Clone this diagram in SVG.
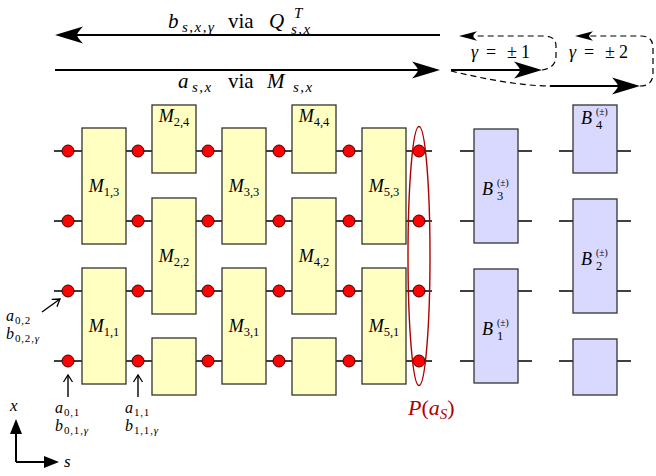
<svg xmlns="http://www.w3.org/2000/svg" width="656" height="476" viewBox="0 0 656 476" font-family="Liberation Serif, DejaVu Serif, serif">
<style>
.wire{stroke:#000;stroke-width:1.6;fill:none}
.m{fill:#ffffc2;stroke:#333;stroke-width:1.3}
.b{fill:#d9d9ff;stroke:#333;stroke-width:1.3}
.dot{fill:#ff0000;stroke:#400;stroke-width:1}
text{font-family:Liberation Serif, DejaVu Serif, serif;fill:#000}
.i{font-style:italic}
.thick{stroke:#000;stroke-width:2;fill:none}
.dash{stroke:#000;stroke-width:1.2;fill:none;stroke-dasharray:6 4}
.thin{stroke:#000;stroke-width:1.4;fill:none}
.ax{stroke:#000;stroke-width:2;fill:none}
.red{stroke:#b00000;stroke-width:1.4;fill:none}
</style>
<defs>
<marker id="big" viewBox="0 -10 30 20" refX="6" refY="0" markerWidth="30" markerHeight="20" markerUnits="userSpaceOnUse" orient="auto">
<path d="M28,0 L0,-8.5 Q6,-2 6,0 Q6,2 0,8.5 Z" fill="#000"/>
</marker>
<marker id="small" viewBox="0 -6 20 12" refX="4" refY="0" markerWidth="20" markerHeight="12" markerUnits="userSpaceOnUse" orient="auto">
<path d="M18,0 L0,-4.8 Q4,-1 4,0 Q4,1 0,4.8 Z" fill="#000"/>
</marker>
<marker id="axh" viewBox="0 -7 16 14" refX="2" refY="0" markerWidth="16" markerHeight="14" markerUnits="userSpaceOnUse" orient="auto">
<path d="M15,0 L0,-6 L0,6 Z" fill="#000"/>
</marker>
<marker id="open" viewBox="-9 -6 11 12" refX="0" refY="0" markerWidth="11" markerHeight="12" markerUnits="userSpaceOnUse" orient="auto">
<path d="M-7,-4.5 L0,0 L-7,4.5" fill="none" stroke="#000" stroke-width="1.3"/>
</marker>
</defs>

<g id="wires">
<path class="wire" d="M54,151H432M54,221H432M54,291H432M54,361H432"/>
<path class="wire" d="M460,151H532M460,221H532M460,291H532M460,361H532"/>
<path class="wire" d="M559,151H631M559,221H631M559,291H631M559,361H631"/>
</g>

<g id="M13"><rect class="m" x="82" y="128" width="44" height="116"/><text x="104" y="192" font-size="18" text-anchor="middle"><tspan class="i">M</tspan><tspan font-size="12.5" dy="3.5">1,3</tspan></text></g>
<g id="M11"><rect class="m" x="82" y="268" width="44" height="116"/><text x="104" y="332" font-size="18" text-anchor="middle"><tspan class="i">M</tspan><tspan font-size="12.5" dy="3.5">1,1</tspan></text></g>
<g id="M24"><rect class="m" x="152" y="105" width="44" height="68"/><text x="174" y="122" font-size="18" text-anchor="middle"><tspan class="i">M</tspan><tspan font-size="12.5" dy="3.5">2,4</tspan></text></g>
<g id="M22"><rect class="m" x="152" y="198" width="44" height="116"/><text x="174" y="262" font-size="18" text-anchor="middle"><tspan class="i">M</tspan><tspan font-size="12.5" dy="3.5">2,2</tspan></text></g>
<g id="M20"><rect class="m" x="152" y="338" width="44" height="57"/></g>
<g id="M33"><rect class="m" x="222" y="128" width="44" height="116"/><text x="244" y="192" font-size="18" text-anchor="middle"><tspan class="i">M</tspan><tspan font-size="12.5" dy="3.5">3,3</tspan></text></g>
<g id="M31"><rect class="m" x="222" y="268" width="44" height="116"/><text x="244" y="332" font-size="18" text-anchor="middle"><tspan class="i">M</tspan><tspan font-size="12.5" dy="3.5">3,1</tspan></text></g>
<g id="M44"><rect class="m" x="292" y="105" width="44" height="68"/><text x="314" y="122" font-size="18" text-anchor="middle"><tspan class="i">M</tspan><tspan font-size="12.5" dy="3.5">4,4</tspan></text></g>
<g id="M42"><rect class="m" x="292" y="198" width="44" height="116"/><text x="314" y="262" font-size="18" text-anchor="middle"><tspan class="i">M</tspan><tspan font-size="12.5" dy="3.5">4,2</tspan></text></g>
<g id="M40"><rect class="m" x="292" y="338" width="44" height="57"/></g>
<g id="M53"><rect class="m" x="362" y="128" width="44" height="116"/><text x="384" y="192" font-size="18" text-anchor="middle"><tspan class="i">M</tspan><tspan font-size="12.5" dy="3.5">5,3</tspan></text></g>
<g id="M51"><rect class="m" x="362" y="268" width="44" height="116"/><text x="384" y="332" font-size="18" text-anchor="middle"><tspan class="i">M</tspan><tspan font-size="12.5" dy="3.5">5,1</tspan></text></g>

<g id="B3"><rect class="b" x="474" y="129" width="44" height="114"/><text class="i" x="482" y="195" font-size="18">B</text><text x="497" y="186" font-size="9.5">(±)</text><text x="497" y="200" font-size="12.5">3</text></g>
<g id="B1"><rect class="b" x="474" y="269" width="44" height="114"/><text class="i" x="482" y="335" font-size="18">B</text><text x="497" y="326" font-size="9.5">(±)</text><text x="497" y="340" font-size="12.5">1</text></g>
<g id="B4"><rect class="b" x="573" y="105" width="44" height="68"/><text class="i" x="581" y="124" font-size="18">B</text><text x="596" y="115" font-size="9.5">(±)</text><text x="596" y="129" font-size="12.5">4</text></g>
<g id="B2"><rect class="b" x="573" y="199" width="44" height="114"/><text class="i" x="581" y="265" font-size="18">B</text><text x="596" y="256" font-size="9.5">(±)</text><text x="596" y="270" font-size="12.5">2</text></g>
<g id="B0"><rect class="b" x="573" y="339" width="44" height="56"/></g>

<g id="dots">
<circle class="dot" cx="68" cy="151" r="6"/><circle class="dot" cx="68" cy="221" r="6"/><circle class="dot" cx="68" cy="291" r="6"/><circle class="dot" cx="68" cy="361" r="6"/>
<circle class="dot" cx="138" cy="151" r="6"/><circle class="dot" cx="138" cy="221" r="6"/><circle class="dot" cx="138" cy="291" r="6"/><circle class="dot" cx="138" cy="361" r="6"/>
<circle class="dot" cx="208" cy="151" r="6"/><circle class="dot" cx="208" cy="221" r="6"/><circle class="dot" cx="208" cy="291" r="6"/><circle class="dot" cx="208" cy="361" r="6"/>
<circle class="dot" cx="279" cy="151" r="6"/><circle class="dot" cx="279" cy="221" r="6"/><circle class="dot" cx="279" cy="291" r="6"/><circle class="dot" cx="279" cy="361" r="6"/>
<circle class="dot" cx="349" cy="151" r="6"/><circle class="dot" cx="349" cy="221" r="6"/><circle class="dot" cx="349" cy="291" r="6"/><circle class="dot" cx="349" cy="361" r="6"/>
<circle class="dot" cx="419" cy="151" r="6"/><circle class="dot" cx="419" cy="221" r="6"/><circle class="dot" cx="419" cy="291" r="6"/><circle class="dot" cx="419" cy="361" r="6"/>
</g>

<g id="P">
<ellipse class="red" cx="419" cy="256" rx="11" ry="129.5"/>
<text x="408" y="415" font-size="22" style="fill:#b00000"><tspan class="i">P</tspan>(<tspan class="i">a</tspan><tspan class="i" font-size="15" dy="4">S</tspan><tspan dy="-4">)</tspan></text>
</g>

<g id="connectors">
<path class="thick" d="M440,35H77" marker-end="url(#big)"/>
<path class="thick" d="M55,70H418" marker-end="url(#big)"/>
<path class="thick" d="M451,70H520" marker-end="url(#big)"/>
<path class="dash" d="M542,70Q556,68 556,56V46Q556,36 544,36H473" marker-end="url(#small)"/>
<path class="dash" d="M451,71C480,78 520,86 550,86"/>
<path class="thick" d="M550,86H618" marker-end="url(#big)"/>
<path class="dash" d="M640,86Q653,86 653,73V48Q653,36 641,36H589" marker-end="url(#small)"/>
<path class="thin" d="M68,397V375" marker-end="url(#open)"/>
<path class="thin" d="M138,397V375" marker-end="url(#open)"/>
<path class="thin" d="M42,312L60,299" marker-end="url(#open)"/>
<path class="ax" d="M16,462V432" marker-end="url(#axh)"/>
<path class="ax" d="M16,462H46" marker-end="url(#axh)"/>
</g>

<g id="labels">
<text font-size="21"><tspan class="i" x="168" y="28">b</tspan><tspan class="i" font-size="15" x="182" y="32" letter-spacing="1.5">s,x,γ</tspan><tspan x="228" y="28">via</tspan><tspan class="i" x="269" y="28">Q</tspan><tspan class="i" font-size="15" x="294" y="18">T</tspan><tspan class="i" font-size="15" x="291" y="34" letter-spacing="1.5">s,x</tspan></text>
<text font-size="21"><tspan class="i" x="178" y="88">a</tspan><tspan class="i" font-size="15" x="192" y="92" letter-spacing="1.5">s,x</tspan><tspan x="228" y="88">via</tspan><tspan class="i" x="267" y="88">M</tspan><tspan class="i" font-size="15" x="293" y="92" letter-spacing="1.5">s,x</tspan></text>
<text font-size="18" y="58"><tspan class="i" x="471">γ</tspan><tspan x="486">=</tspan><tspan x="507">±</tspan><tspan x="521">1</tspan></text>
<text font-size="18" y="58"><tspan class="i" x="569">γ</tspan><tspan x="584">=</tspan><tspan x="605">±</tspan><tspan x="619">2</tspan></text>
<text font-size="16"><tspan class="i" x="6" y="321">a</tspan><tspan font-size="11" x="15" y="324" letter-spacing="0.8">0,2</tspan></text>
<text font-size="16"><tspan class="i" x="6" y="339">b</tspan><tspan font-size="11" x="15" y="342" letter-spacing="0.8">0,2,<tspan class="i">γ</tspan></tspan></text>
<text font-size="16"><tspan class="i" x="55" y="413">a</tspan><tspan font-size="11" x="64" y="416" letter-spacing="0.8">0,1</tspan></text>
<text font-size="16"><tspan class="i" x="55" y="431">b</tspan><tspan font-size="11" x="64" y="434" letter-spacing="0.8">0,1,<tspan class="i">γ</tspan></tspan></text>
<text font-size="16"><tspan class="i" x="125" y="413">a</tspan><tspan font-size="11" x="134" y="416" letter-spacing="0.8">1,1</tspan></text>
<text font-size="16"><tspan class="i" x="125" y="431">b</tspan><tspan font-size="11" x="134" y="434" letter-spacing="0.8">1,1,<tspan class="i">γ</tspan></tspan></text>
<text class="i" font-size="17" x="10" y="411">x</text>
<text class="i" font-size="17" x="64" y="467">s</text>
</g>
</svg>
